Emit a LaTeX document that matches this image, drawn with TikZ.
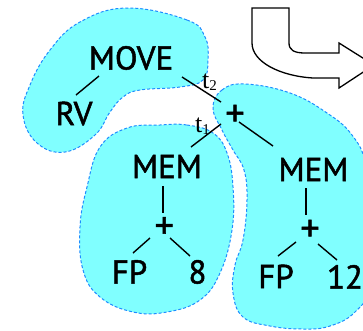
\documentclass[tikz,border=0pt]{standalone}
\usepackage{fontspec}
\setmainfont{PT Sans}
\newfontfamily\tfont{Liberation Serif}
\newfontfamily\labfont[FakeBold=1.5]{PT Sans}
\usetikzlibrary{calc}
\definecolor{blobfill}{RGB}{128,255,255}
\definecolor{blobedge}{RGB}{30,140,255}
\begin{document}
\begin{tikzpicture}[x=1pt,y=-1pt,
  lab/.style={font=\labfont\fontsize{33}{38}\selectfont, inner sep=0pt, text height=22pt, text depth=0pt},
  plus/.style={lab, font=\labfont\fontsize{38}{40}\selectfont},
  tl/.style={font=\tfont\fontsize{26}{28}\selectfont, inner sep=0pt, anchor=base west},
  edge/.style={line width=1.4pt},
  blob/.style={fill=blobfill, draw=blobedge, dash pattern=on 3pt off 2pt, line width=1pt},
  bigarrow/.style={draw=black, fill=white, line width=1.3pt, line join=miter}]
\useasboundingbox (0,0) rectangle (363,330);
\clip (0,0) rectangle (363,330);
% blobs
\draw[blob] plot[smooth cycle, tension=0.7] coordinates {(127,8) (187,20) (205,37) (208,60) (203,80) (180,87) (140,90) (123,97) (110,112) (95,135) (65,152) (37,143) (23,115) (30,85) (50,50) (80,22)};
\draw[blob] plot[smooth cycle, tension=0.7] coordinates {(160,125) (187,125) (213,133) (227,153) (233,187) (232,230) (220,273) (200,300) (167,312) (133,312) (100,297) (83,270) (80,227) (87,187) (100,147) (127,128)};
\draw[blob] plot[smooth cycle, tension=0.7] coordinates {(213,108) (222,90) (245,84) (290,93) (327,113) (352,135) (366,165) (372,220) (370,285) (355,312) (330,326) (303,329) (270,326) (243,317) (233,293) (235,265) (243,240) (247,200) (244,170) (233,150) (222,130)};
% arrow
\draw[bigarrow] (252,8) -- (289,8) -- (289,43) .. controls (289,50) and (294,53) .. (305,53) -- (339,53) -- (339,43) -- (374,65) -- (339,88) -- (339,78) -- (313,78) .. controls (280,76) and (252,62) .. (252,43) -- cycle;
% nodes
\node[lab] (MOVE) at (131,58.5) {MOVE};
\node[lab] (RV) at (74,114) {RV};
\node[plus] (P0) at (235,115) {+};
\node[lab] (MEMl) at (167,167) {MEM};
\node[lab] (MEMr) at (313.5,170) {MEM};
\node[plus] (Pl) at (164.3,227.3) {+};
\node[plus] (Pr) at (310,230) {+};
\node[lab] (FPl) at (129.5,272.5) {FP};
\node[lab] (N8) at (197.5,272.5) {8};
\node[lab] (FPr) at (276,277) {FP};
\node[lab] (N12) at (345,277.5) {12};
\node[tl] (t2) at (202,88) {t\raisebox{-2.5pt}{\fontsize{15}{15}\selectfont 2}};
\node[tl] (t1) at (195,132) {t\raisebox{-2.5pt}{\fontsize{15}{15}\selectfont 1}};
% edges
\draw[edge] ($(MOVE)+(-32,17.5)$) -- ($(RV)+(2,-19)$);
\draw[edge] ($(MOVE)+(51,18.5)$) -- ($(P0)+(-14,-13)$);
\draw[edge] ($(P0)+(-14,9)$) -- ($(MEMl)+(24,-20)$);
\draw[edge] ($(P0)+(4,7)$) -- ($(MEMr)+(-40.5,-24)$);
\draw[edge] ($(MEMl)+(-4,19)$) -- ($(Pl)+(-1.3,-14.3)$);
\draw[edge] ($(Pl)+(-14.3,10.7)$) -- ($(FPl)+(3.5,-19.5)$);
\draw[edge] ($(Pl)+(5.7,10.7)$) -- ($(N8)+(-7.5,-16.5)$);
\draw[edge] ($(MEMr)+(-7.5,18)$) -- ($(Pr)+(-4,-15)$);
\draw[edge] ($(Pr)+(-14,12)$) -- ($(FPr)+(2,-21)$);
\draw[edge] ($(Pr)+(8,14)$) -- ($(N12)+(-8,-17.5)$);
\end{tikzpicture}
\end{document}
